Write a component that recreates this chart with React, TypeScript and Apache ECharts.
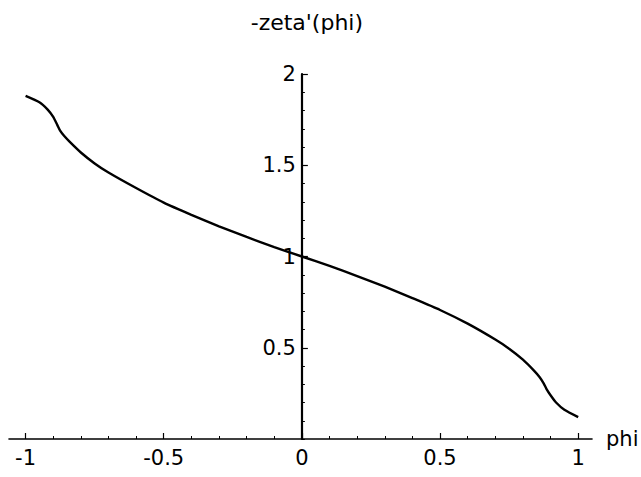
import React, { useEffect, useRef } from "react";
import * as echarts from "echarts";

const phi = [-1.0, -0.95, -0.92, -0.9, -0.885, -0.875, -0.86, -0.84, -0.8, -0.75, -0.7, -0.6, -0.5, -0.4, -0.3, -0.2, -0.1, 0,
  0.1, 0.2, 0.3, 0.4, 0.5, 0.6, 0.7, 0.75, 0.8, 0.84, 0.86, 0.875, 0.885, 0.9, 0.92, 0.95, 1.0];
const zeta = [1.88, 1.845, 1.805, 1.765, 1.72, 1.69, 1.66, 1.628, 1.57, 1.51, 1.46, 1.375, 1.295, 1.228, 1.165, 1.107, 1.052, 1.0,
  0.948, 0.893, 0.835, 0.772, 0.707, 0.632, 0.545, 0.495, 0.435, 0.375, 0.34, 0.305, 0.275, 0.24, 0.2, 0.16, 0.12];
const xLabels = [-1, -0.5, 0, 0.5, 1];
const yLabels = [0.5, 1, 1.5, 2];
const xMinor = [-1, -0.9, -0.8, -0.7, -0.6, -0.5, -0.4, -0.3, -0.2, -0.1, 0, 0.1, 0.2, 0.3, 0.4, 0.5, 0.6, 0.7, 0.8, 0.9, 1];
const yMinor = [0, 0.1, 0.2, 0.3, 0.4, 0.5, 0.6, 0.7, 0.8, 0.9, 1, 1.1, 1.2, 1.3, 1.4, 1.5, 1.6, 1.7, 1.8, 1.9, 2];

const FONT = "DejaVu Sans";
const W = 641;
const H = 477;
const X_MIN = -1.06;
const X_MAX = 1.05;
const Y_MIN = 0;
const Y_MAX = 2;

export default function App() {
  const ref = useRef<HTMLDivElement>(null);
  useEffect(() => {
    if (!ref.current) return;
    const chart = echarts.init(ref.current, null, { renderer: "svg" });
    const left = 9;
    const right = 49;
    const top = 74;
    const bottom = 38;
    const plotW = W - left - right;
    const zeroX = left + (plotW * (0 - X_MIN)) / (X_MAX - X_MIN);
    const mainGrid = { left, right, top, bottom, containLabel: false, outerBoundsMode: "none" };
    const yGrid = { left: zeroX, width: 100, top, bottom, containLabel: false, outerBoundsMode: "none" };
    const fmt = (v: number) => String(v);
    const hiddenX = (gi: number) => ({ type: "value", gridIndex: gi, min: 0, max: 1, show: false });
    const hiddenY = (gi: number) => ({ type: "value", gridIndex: gi, min: Y_MIN, max: Y_MAX, show: false });
    chart.setOption({
      animation: false,
      backgroundColor: "#ffffff",
      title: {
        text: "-zeta'(phi)",
        left: zeroX,
        top: 6,
        textAlign: "center",
        textStyle: { fontFamily: FONT, fontSize: 22, fontWeight: "normal", color: "#000" },
      },
      grid: [mainGrid, mainGrid, yGrid, yGrid],
      xAxis: [
        {
          type: "value", gridIndex: 0, min: X_MIN, max: X_MAX,
          position: "bottom",
          axisLine: { show: true, onZero: false, lineStyle: { color: "#000", width: 1.6 } },
          axisTick: { show: true, inside: true, length: 6, customValues: xLabels, lineStyle: { color: "#000", width: 1.2 } },
          axisLabel: { show: true, customValues: xLabels, formatter: fmt, margin: 8, fontFamily: FONT, fontSize: 21, color: "#000" },
          splitLine: { show: false },
          name: "phi", nameLocation: "end", nameGap: 14,
          nameTextStyle: { fontFamily: FONT, fontSize: 21, color: "#000", verticalAlign: "middle" },
        },
        {
          type: "value", gridIndex: 1, min: X_MIN, max: X_MAX,
          position: "bottom",
          axisLine: { show: false, onZero: false },
          axisTick: { show: true, inside: true, length: 3, customValues: xMinor, lineStyle: { color: "#000", width: 1 } },
          axisLabel: { show: false },
          splitLine: { show: false },
        },
        hiddenX(2),
        hiddenX(3),
      ],
      yAxis: [
        hiddenY(0),
        hiddenY(1),
        {
          type: "value", gridIndex: 2, min: Y_MIN, max: Y_MAX,
          position: "left",
          axisLine: { show: true, onZero: false, lineStyle: { color: "#000", width: 2.2 } },
          axisTick: { show: true, inside: true, length: 6, customValues: yLabels, lineStyle: { color: "#000", width: 1.2 } },
          axisLabel: { show: true, customValues: yLabels, formatter: fmt, margin: 6, fontFamily: FONT, fontSize: 21, color: "#000" },
          splitLine: { show: false },
        },
        {
          type: "value", gridIndex: 3, min: Y_MIN, max: Y_MAX,
          position: "left",
          axisLine: { show: false, onZero: false },
          axisTick: { show: true, inside: true, length: 3, customValues: yMinor, lineStyle: { color: "#000", width: 1 } },
          axisLabel: { show: false },
          splitLine: { show: false },
        },
      ],
      series: [
        {
          type: "line",
          xAxisIndex: 0,
          yAxisIndex: 0,
          data: phi.map((p, i) => [p, zeta[i]]),
          showSymbol: false,
          smooth: 0.2,
          lineStyle: { color: "#000", width: 2.4 },
        },
      ],
    });
    return () => chart.dispose();
  }, []);
  return <div ref={ref} style={{ position: "fixed", left: 0, top: 0, width: W, height: H }} />;
}
